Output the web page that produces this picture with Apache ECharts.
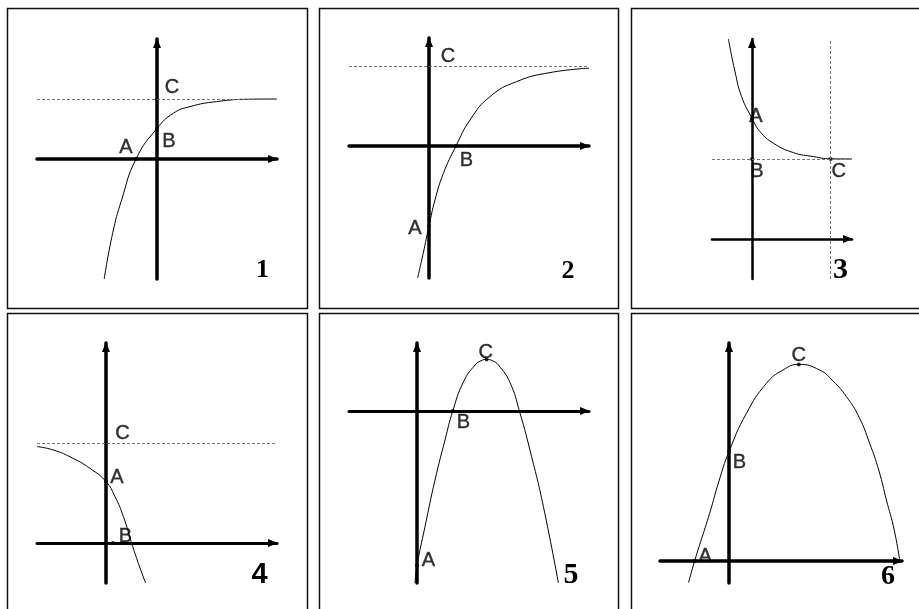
<!DOCTYPE html>
<html>
<head>
<meta charset="utf-8">
<title>函数图像</title>
<script src="https://cdn.jsdelivr.net/npm/echarts@6/dist/echarts.min.js"></script>
<style>
html, body { margin: 0; padding: 0; background: #fff; }
#main { width: 919px; height: 609px; }
</style>
</head>
<body>
<div id="main"></div>
<script>
// 曲线点（每格一个单位）
var curve1 = [[-2.64,-6],[-2.22,-3.72],[-1.77,-2.05],[-1.05,0],[0,1.53],[0.82,2.29],[1.65,2.62],[2.98,2.87],[4.65,2.99],[6,3]];
var curve2 = [[-0.57,-6.6],[-0.29,-5.37],[0,-4],[0.3,-2.7],[0.72,-1.37],[1.35,0],[2.05,1.3],[3.05,2.47],[4.38,3.22],[6.05,3.67],[8,3.89]];
var curve3 = [[-1.18,10],[-0.85,8.37],[-0.52,7.12],[0,6.04],[0.4,5.37],[1.07,4.79],[2.07,4.32],[3.07,4.12],[3.93,4.01],[5,4]];
var curve4 = [[-3.45,4.82],[-2.63,4.65],[-1.64,4.23],[-0.8,3.73],[0,3.07],[0.45,2.32],[0.87,1.32],[1.28,0],[1.62,-1.02],[1.98,-2]];
var curve5 = [[-0.1,-8.6],[0,-7.73],[0.4,-5.78],[0.9,-3.45],[1.4,-1.45],[1.79,0],[2.32,1.45],[2.9,2.3],[3.2,2.51],[3.48,2.58],[3.78,2.51],[4.07,2.3],[4.65,1.42],[5.12,0],[5.73,-2.28],[6.32,-4.78],[7.07,-8.6]];
var curve6 = [[-2.02,-1.08],[-1.72,0],[-0.97,2.38],[-0.5,4.0],[0,5.47],[0.87,7.38],[1.87,8.88],[2.7,9.55],[3.49,9.83],[4.53,9.55],[5.2,9.0],[5.87,8.22],[6.5,7.2],[7.03,5.89],[7.5,4.5],[7.87,3.05],[8.25,1.6],[8.54,0]];

// 标注点 A B C
var points1 = [['A',-1.05,0],['B',0,1.53],['C',0,3]];
var points2 = [['A',0,-4],['B',1.35,0],['C',0,4]];
var points3 = [['A',0,6.04],['B',0,4],['C',3.93,4]];
var points4 = [['A',0,3.07],['B',0.35,0],['C',0,5]];
var points5 = [['A',0,-7.73],['B',1.79,0],['C',3.48,2.58]];
var points6 = [['A',-1.72,0],['B',0,5.47],['C',3.49,9.83]];

// 渐近线（虚线）
var hLines = [3, 4, 4, 5, null, null];
var vLines = [null, null, 3.93, null, null, null];

var numbers = ['1','2','3','4','5','6'];

var serif = '"Liberation Serif", "Times New Roman", serif';
var sans = '"Liberation Sans", Arial, sans-serif';

var panels = [
	{grid:{left:37, top:39, width:240, height:240}, x:[-6,6], y:[-6,6], xw:3.5, yw:3.5,
	 box:[7.5,8.5,300,300], num:[262.5,270], font:'bold 26px ' + serif,
	 off:{A:[-10,-12], B:[12,13], C:[15,-12]}},
	{grid:{left:349, top:38, width:240, height:240}, x:[-4,8], y:[-6.6,5.4], xw:3.5, yw:3.5,
	 box:[319.5,8.5,299,300], num:[568,271], font:'bold 26px ' + serif,
	 off:{A:[-14,2.5], B:[10.3,14.8], C:[19,-9.5]}},
	{grid:{left:712, top:39, width:140, height:240}, x:[-2,5], y:[-2,10], xw:2.5, yw:2.5,
	 box:[631.5,8.5,300,300], num:[840.5,270], font:'bold 30px ' + serif,
	 off:{A:[4,-2], B:[5,12], C:[8,12]}},
	{grid:{left:37, top:343, width:240, height:240}, x:[-3.45,8.55], y:[-2,10], xw:3, yw:3.5,
	 box:[7.5,313.5,300,310], num:[259.5,575], font:'bold 29px ' + sans,
	 off:{A:[11,-4], B:[12.5,-6.5], C:[16.5,-10]}},
	{grid:{left:349, top:343, width:240, height:240}, x:[-3.4,8.6], y:[-8.6,3.4], xw:3, yw:3.5,
	 box:[319.5,313.5,299,310], num:[571,575.5], font:'bold 30px ' + serif,
	 off:{A:[11.5,-5], B:[10.5,11.5], C:[-1,-7]}},
	{grid:{left:660, top:343, width:242, height:240}, x:[-3.45,8.65], y:[-1.1,10.9], xw:3.5, yw:3.5,
	 box:[631.5,313.5,300,310], num:[888,577], font:'bold 28px ' + serif,
	 off:{A:[10.5,-4.5], B:[10.5,11], C:[0,-8.5]}}
];

var curves = [curve1, curve2, curve3, curve4, curve5, curve6];
var points = [points1, points2, points3, points4, points5, points6];

function axisOf(i, range, width){
	return {
		type: 'value',
		gridIndex: i,
		min: range[0],
		max: range[1],
		splitLine: {show: false},
		axisTick: {show: false},
		axisLabel: {show: false},
		axisLine: {
			onZero: true,
			symbol: ['none', 'triangle'],
			symbolSize: [8, 10],
			symbolOffset: [0, -4],
			lineStyle: {color: '#000', width: width}
		}
	};
}

function loadChart(){
	var chart = echarts.init(document.getElementById('main'));
	var grid = [], xAxis = [], yAxis = [], series = [], graphic = [];

	panels.forEach(function(p, i){
		grid.push(p.grid);
		xAxis.push(axisOf(i, p.x, p.xw));
		yAxis.push(axisOf(i, p.y, p.yw));

		var marks = [];
		if (hLines[i] != null) marks.push({yAxis: hLines[i]});
		if (vLines[i] != null) marks.push({xAxis: vLines[i]});

		series.push({
			type: 'line',
			xAxisIndex: i,
			yAxisIndex: i,
			data: curves[i],
			smooth: true,
			showSymbol: false,
			lineStyle: {color: '#000', width: 1},
			markLine: {
				silent: true,
				symbol: 'none',
				label: {show: false},
				lineStyle: {color: '#777', type: [3, 2], width: 1},
				data: marks
			}
		});
		series.push({
			type: 'scatter',
			xAxisIndex: i,
			yAxisIndex: i,
			symbolSize: 4,
			itemStyle: {color: '#000'},
			label: {
				show: true,
				position: 'inside',
				formatter: '{b}',
				color: '#000',
				textBorderColor: '#000',
				textBorderWidth: 0.4,
				fontFamily: sans,
				fontSize: 20
			},
			data: points[i].map(function(d){
				return {name: d[0], value: [d[1], d[2]], label: {offset: p.off[d[0]]}};
			})
		});

		graphic.push({
			type: 'rect',
			shape: {x: p.box[0], y: p.box[1], width: p.box[2], height: p.box[3]},
			style: {fill: 'none', stroke: '#111', lineWidth: 1.5}
		});
		graphic.push({
			type: 'text',
			x: p.num[0],
			y: p.num[1],
			style: {text: numbers[i], font: p.font, fill: '#000', align: 'center', verticalAlign: 'middle'}
		});
	});

	chart.setOption({
		animation: false,
		backgroundColor: '#fff',
		grid: grid,
		xAxis: xAxis,
		yAxis: yAxis,
		series: series,
		graphic: graphic
	});
}

loadChart();
</script>
</body>
</html>
